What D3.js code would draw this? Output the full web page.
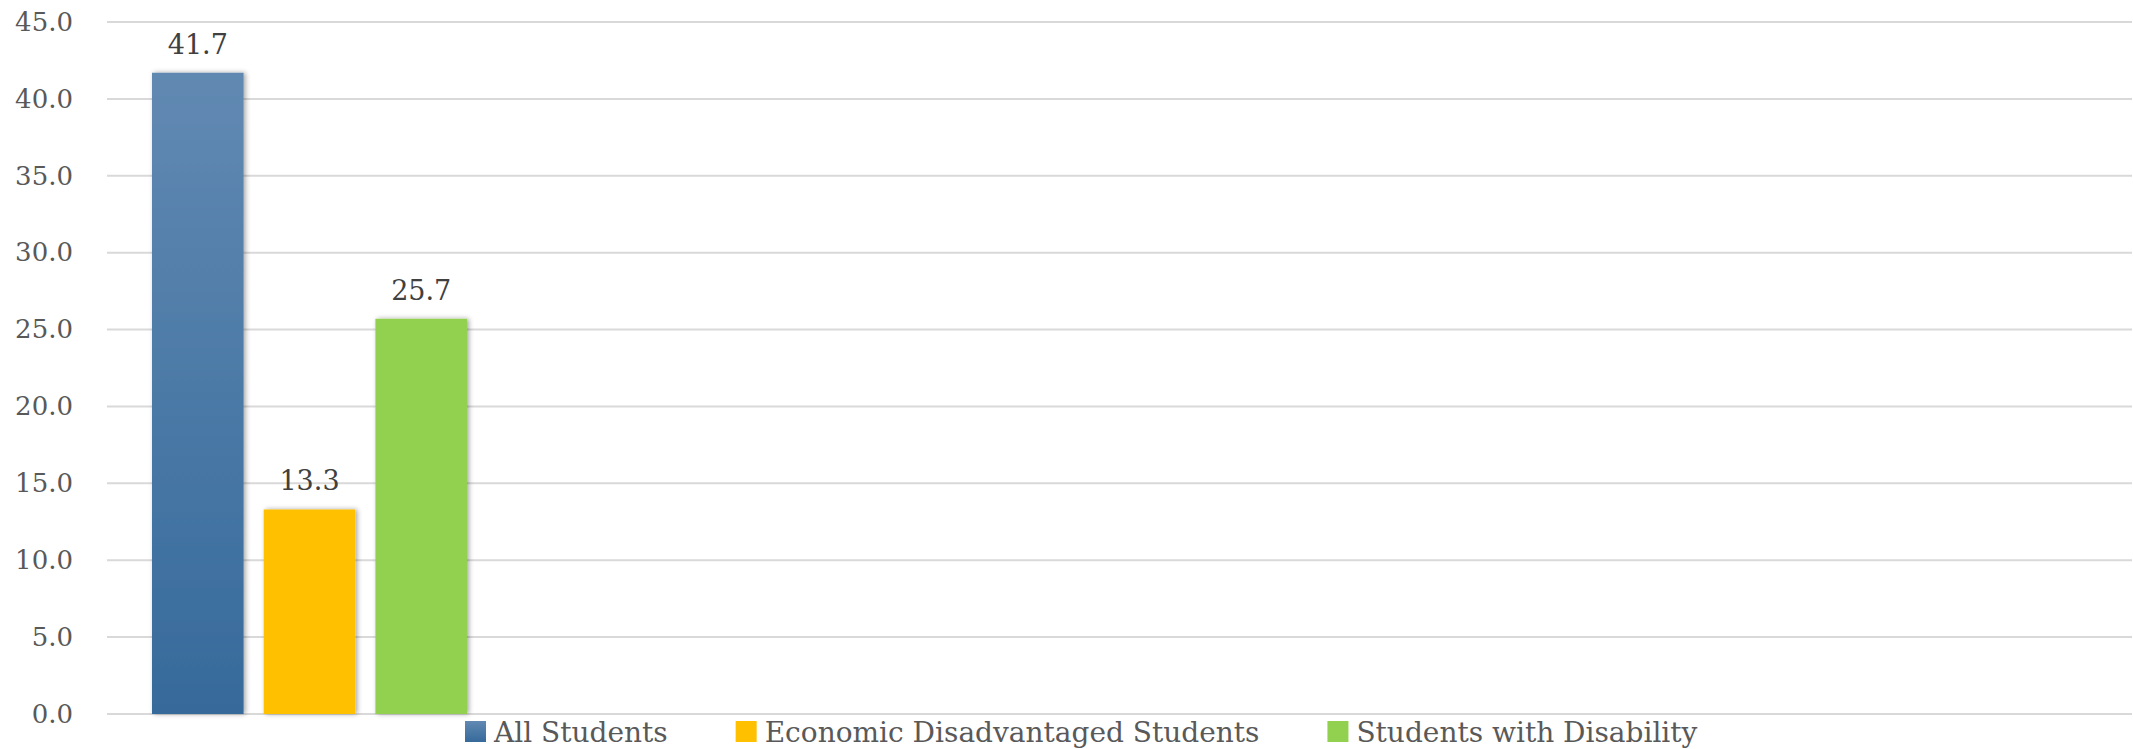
<!DOCTYPE html>
<html>
<head>
<meta charset="utf-8">
<script src="https://cdn.jsdelivr.net/npm/d3@7"></script>
<style>
  html, body { margin: 0; padding: 0; background: #fff; }
  svg { display: block; }
</style>
</head>
<body>
<div id="chart"></div>
<script>
// chart data
const categories = ["c1", "c2", "c3", "c4", "c5"];   // only the first slot has values
const seriesNames = ["All Students", "Economic Disadvantaged Students", "Students with Disability"];
const seriesValues = [41.7, 13.3, 25.7];
const seriesColors = ["#4a7aab", "#ffc000", "#92d050"];
const yTicks = [0, 5, 10, 15, 20, 25, 30, 35, 40, 45];

const width = 2133, height = 749;
const plotLeft = 107, plotRight = 2132, plotTop = 22, plotBottom = 714;

const svg = d3.select("#chart").append("svg")
  .attr("width", width).attr("height", height);

const defs = svg.append("defs");
const grad = defs.append("linearGradient")
  .attr("id", "blueGrad").attr("x1", 0).attr("y1", 0).attr("x2", 0).attr("y2", 1);
grad.append("stop").attr("offset", "0%").attr("stop-color", "#6189b2");
grad.append("stop").attr("offset", "100%").attr("stop-color", "#366a9b");

const shadow = defs.append("filter").attr("id", "shadow")
  .attr("x", "-20%").attr("y", "-5%").attr("width", "140%").attr("height", "110%");
shadow.append("feDropShadow")
  .attr("dx", 2).attr("dy", 0).attr("stdDeviation", 2.5)
  .attr("flood-color", "#000").attr("flood-opacity", 0.35);

const y = d3.scaleLinear().domain([0, 45]).range([plotBottom, plotTop]);

const x0 = d3.scaleBand().domain(categories).range([plotLeft, plotRight]);
const groupPad = 45;
const x1 = d3.scaleBand().domain(seriesNames)
  .range([groupPad, x0.bandwidth() - groupPad]).paddingInner(0.18);

// grid lines
svg.append("g").selectAll("line").data(yTicks).enter().append("line")
  .attr("x1", plotLeft).attr("x2", plotRight)
  .attr("y1", d => y(d)).attr("y2", d => y(d))
  .attr("stroke", "#d9d9d9").attr("stroke-width", 2);

// y axis labels
const yAxis = d3.axisLeft(y).tickValues(yTicks).tickFormat(d3.format(".1f")).tickSize(0).tickPadding(0);
const ax = svg.append("g").attr("transform", "translate(73,0)").call(yAxis);
ax.select(".domain").remove();
ax.selectAll("text")
  .attr("font-family", "DejaVu Serif").attr("font-size", 26).attr("fill", "#595959");

// bars
const bars = seriesNames.map((name, i) => ({ name: name, value: seriesValues[i], i: i }));
const g = svg.append("g").attr("transform", "translate(" + x0(categories[0]) + ",0)");

g.selectAll("rect").data(bars).enter().append("rect")
  .attr("x", d => x1(d.name))
  .attr("y", d => y(d.value))
  .attr("width", x1.bandwidth())
  .attr("height", d => y(0) - y(d.value))
  .attr("fill", d => d.i === 0 ? "url(#blueGrad)" : seriesColors[d.i])
  .attr("filter", "url(#shadow)");

g.selectAll("text.val").data(bars).enter().append("text")
  .attr("class", "val")
  .attr("x", d => x1(d.name) + x1.bandwidth() / 2)
  .attr("y", d => y(d.value) - 19)
  .attr("text-anchor", "middle")
  .attr("font-family", "DejaVu Serif").attr("font-size", 27).attr("fill", "#404040")
  .text(d => d.value.toFixed(1));

// legend
const legend = svg.append("g");
let lx = 465;
bars.forEach(d => {
  legend.append("rect")
    .attr("x", lx).attr("y", 721).attr("width", 21).attr("height", 21)
    .attr("fill", d.i === 0 ? "url(#blueGrad)" : seriesColors[d.i]);
  const t = legend.append("text")
    .attr("x", lx + 29).attr("y", 742)
    .attr("font-family", "DejaVu Serif").attr("font-size", 28).attr("fill", "#595959")
    .text(d.name);
  lx += 29 + t.node().getComputedTextLength() + 68;
});
</script>
</body>
</html>
